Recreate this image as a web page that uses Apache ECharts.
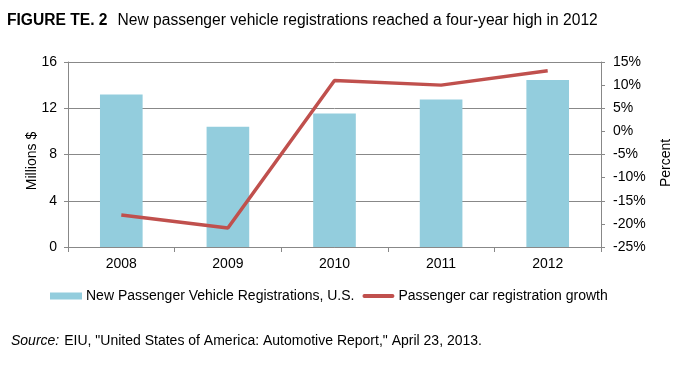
<!DOCTYPE html>
<html><head><meta charset="utf-8">
<script src="https://cdn.jsdelivr.net/npm/echarts@6/dist/echarts.min.js"></script>
<style>html,body{margin:0;padding:0;background:#fff}#c{width:686px;height:372px}</style>
</head><body><div id="c"></div>
<script>
const years = ['2008','2009','2010','2011','2012'];
const registrations = [13.2, 10.4, 11.55, 12.75, 14.45];
const growth = [-18.1, -20.9, 11.0, 10.0, 13.1];
const leftTicks = [0, 4, 8, 12, 16];
const rightTicks = [-25, -20, -15, -10, -5, 0, 5, 10, 15];
const barName = 'New Passenger Vehicle Registrations, U.S.';
const lineName = 'Passenger car registration growth';

const chart = echarts.init(document.getElementById('c'));
const font = 'Liberation Sans, Arial, sans-serif';
chart.setOption({
  animation: false,
  textStyle: {fontFamily: font},
  title: [{
    text: '{b|FIGURE TE. 2}  {n|New passenger vehicle registrations reached a four-year high in 2012}',
    left: 7, top: 12, padding: 0,
    textStyle: {rich: {
      b: {fontFamily: font, fontWeight: 'bold', fontSize: 15.6, color: '#000'},
      n: {fontFamily: font, fontWeight: 'normal', fontSize: 15.6, color: '#000'}
    }}
  }, {
    text: '{i|Source:} {n|EIU, "United States of America: Automotive Report," April 23, 2013.}',
    left: 11, top: 332, padding: 0,
    textStyle: {rich: {
      i: {fontFamily: font, fontStyle: 'italic', fontWeight: 'normal', fontSize: 14, color: '#000'},
      n: {fontFamily: font, fontWeight: 'normal', fontSize: 14, color: '#000'}
    }}
  }],
  legend: {
    left: 50, top: 289, padding: 0, itemWidth: 32, itemHeight: 7, itemGap: 8,
    textStyle: {fontFamily: font, fontSize: 14, color: '#000', padding: [0,0,0,-1]},
    data: [
      {name: barName, icon: 'rect'},
      {name: lineName, icon: 'path://M2,0 H30 A2,2 0 0 1 30,4 H2 A2,2 0 0 1 2,0 Z'}
    ]
  },
  graphic: [{
    type: 'text', x: 32, y: 161, rotation: Math.PI / 2,
    style: {text: 'Millions $', fontFamily: font, fontSize: 14, fill: '#000', align: 'center', verticalAlign: 'middle'}
  }, {
    type: 'text', x: 666, y: 163, rotation: Math.PI / 2,
    style: {text: 'Percent', fontFamily: font, fontSize: 14, fill: '#000', align: 'center', verticalAlign: 'middle'}
  }],
  grid: {left: 68, right: 85, top: 62, bottom: 125},
  xAxis: {
    type: 'category', data: years,
    axisLine: {lineStyle: {color: '#888'}},
    axisTick: {show: true, alignWithLabel: false, length: 5, lineStyle: {color: '#888'}},
    axisLabel: {color: '#000', fontSize: 14, margin: 10, fontFamily: font}
  },
  yAxis: [{
    type: 'value', min: 0, max: 16, interval: 4,
    axisLine: {show: true, lineStyle: {color: '#888'}},
    axisTick: {show: true, length: 4, lineStyle: {color: '#888'}},
    axisLabel: {color: '#000', fontSize: 14, margin: 11, fontFamily: font,
      formatter: v => leftTicks.includes(v) ? String(v) : ''},
    splitLine: {show: true, lineStyle: {color: '#888', width: 1}}
  }, {
    type: 'value', min: -25, max: 15, interval: 5, position: 'right',
    axisLine: {show: true, lineStyle: {color: '#888'}},
    axisTick: {show: true, length: 4, lineStyle: {color: '#888'}},
    axisLabel: {color: '#000', fontSize: 14, margin: 12, fontFamily: font,
      formatter: v => rightTicks.includes(v) ? v + '%' : ''},
    splitLine: {show: false}
  }],
  series: [{
    name: barName, type: 'bar', data: registrations, yAxisIndex: 0,
    barWidth: '40%', itemStyle: {color: '#93CDDD'}
  }, {
    name: lineName, type: 'line', data: growth, yAxisIndex: 1,
    symbol: 'none', lineStyle: {color: '#C0504D', width: 3.5},
    itemStyle: {color: '#C0504D'}
  }]
});
</script></body></html>
